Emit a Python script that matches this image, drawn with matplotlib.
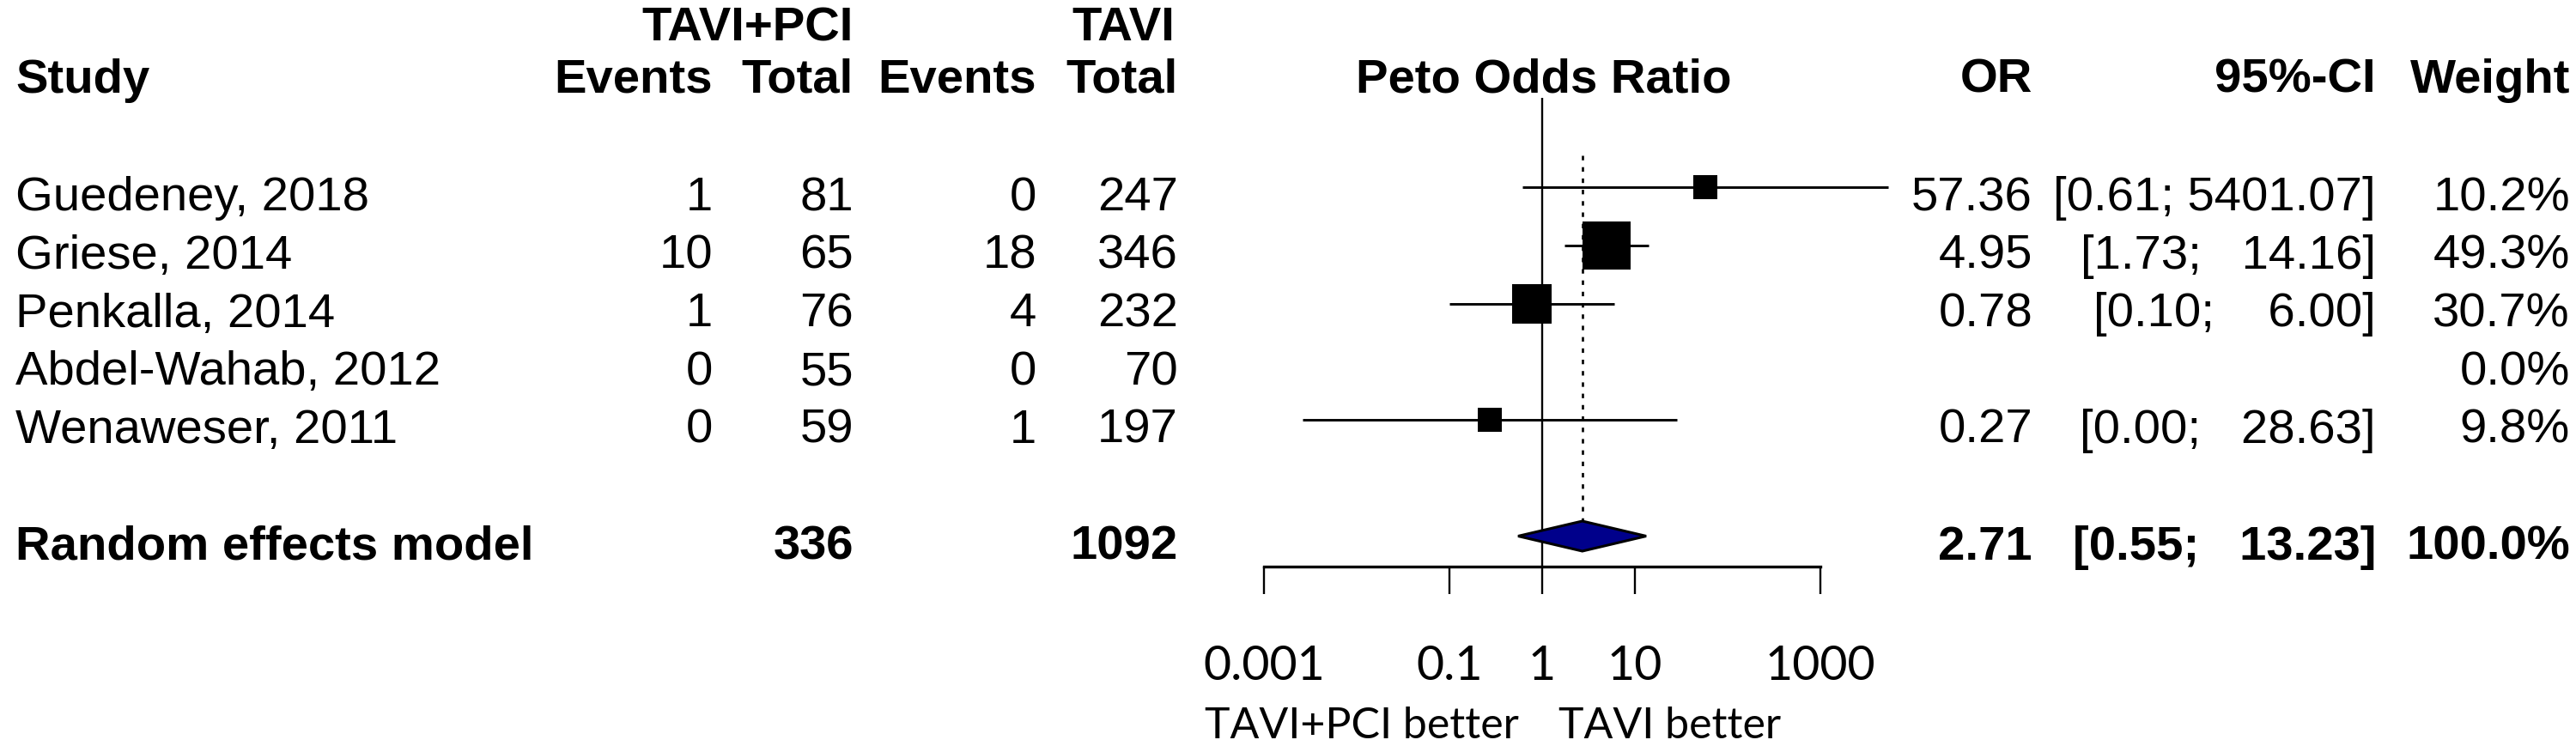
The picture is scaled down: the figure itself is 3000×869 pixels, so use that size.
import matplotlib
matplotlib.use('Agg')
import matplotlib.pyplot as plt
from matplotlib.patches import Polygon
from matplotlib.ticker import NullLocator
import numpy as np

plt.rcParams['font.family'] = ['Liberation Sans', 'DejaVu Sans']

# data
studies = ["Guedeney, 2018", "Griese, 2014", "Penkalla, 2014", "Abdel-Wahab, 2012", "Wenaweser, 2011"]
ev_pci = [1, 10, 1, 0, 0]
tot_pci = [81, 65, 76, 55, 59]
ev_tavi = [0, 18, 4, 0, 1]
tot_tavi = [247, 346, 232, 70, 197]
odds = [57.36, 4.95, 0.78, np.nan, 0.27]
ci_low = [0.61, 1.73, 0.10, np.nan, 0.0026]
ci_high = [5401.07, 14.16, 6.00, np.nan, 28.63]
weights = [10.2, 49.3, 30.7, 0.0, 9.8]

pooled_or = 2.71
pooled_low = 0.55
pooled_high = 13.23
pooled_tot_pci = 336
pooled_tot_tavi = 1092

ticks = [0.001, 0.1, 1, 10, 1000]
tick_labels = ["0.001", "0.1", "1", "10", "1000"]

# layout (pixels of a 3000x870 canvas, rows in row units)
W, H = 3000, 870
ROW0, ROWH = 219, 67.75
y_top = -ROW0 / ROWH
y_bot = (H - ROW0) / ROWH
base = 26 / ROWH          # text baseline below row centre
sum_row = 6
axis_y = (661 - ROW0) / ROWH
fs = 40.5

fig = plt.figure(figsize=(30, 8.7), dpi=100)

tx = fig.add_axes([0, 0, 1, 1])
tx.set_xlim(0, W)
tx.set_ylim(y_bot, y_top)
tx.axis('off')

col_x = {'study': 18, 'ev1': 830, 'tot1': 994, 'ev2': 1207, 'tot2': 1372,
         'or': 2367, 'ci': 2767, 'w': 2993}

# headers
h1 = (47 - ROW0) / ROWH
h2 = (108 - ROW0) / ROWH
tx.text(col_x['tot1'], h1, "TAVI+PCI", ha='right', va='baseline', fontsize=fs, fontweight='bold')
tx.text(col_x['tot2'] - 4, h1, "TAVI", ha='right', va='baseline', fontsize=fs, fontweight='bold')
tx.text(col_x['study'], h2, "Study", ha='left', va='baseline', fontsize=fs, fontweight='bold')
for key, lab in [('ev1', 'Events'), ('tot1', 'Total'), ('ev2', 'Events'), ('tot2', 'Total'),
                 ('or', 'OR'), ('ci', '95%-CI'), ('w', 'Weight')]:
    tx.text(col_x[key], h2, lab, ha='right', va='baseline', fontsize=fs, fontweight='bold')
tx.text(1798, h2, "Peto Odds Ratio", ha='center', va='baseline', fontsize=fs, fontweight='bold')

# study rows
for i, name in enumerate(studies):
    y = i + base
    tx.text(col_x['study'], y, name, ha='left', va='baseline', fontsize=fs)
    tx.text(col_x['ev1'], y, str(ev_pci[i]), ha='right', va='baseline', fontsize=fs)
    tx.text(col_x['tot1'], y, str(tot_pci[i]), ha='right', va='baseline', fontsize=fs)
    tx.text(col_x['ev2'], y, str(ev_tavi[i]), ha='right', va='baseline', fontsize=fs)
    tx.text(col_x['tot2'], y, str(tot_tavi[i]), ha='right', va='baseline', fontsize=fs)
    if weights[i] > 0:
        tx.text(col_x['or'], y, f"{odds[i]:.2f}", ha='right', va='baseline', fontsize=fs)
        tx.text(col_x['ci'], y, f"[{ci_low[i]:.2f}; {ci_high[i]:>7.2f}]", ha='right', va='baseline', fontsize=fs)
    tx.text(col_x['w'], y, f"{weights[i]:.1f}%", ha='right', va='baseline', fontsize=fs)

# pooled row
y = sum_row + base
tx.text(col_x['study'], y, "Random effects model", ha='left', va='baseline', fontsize=fs, fontweight='bold')
tx.text(col_x['tot1'], y, str(pooled_tot_pci), ha='right', va='baseline', fontsize=fs, fontweight='bold')
tx.text(col_x['tot2'], y, str(pooled_tot_tavi), ha='right', va='baseline', fontsize=fs, fontweight='bold')
tx.text(col_x['or'], y, f"{pooled_or:.2f}", ha='right', va='baseline', fontsize=fs, fontweight='bold')
tx.text(col_x['ci'], y, f"[{pooled_low:.2f}; {pooled_high:>7.2f}]", ha='right', va='baseline', fontsize=fs, fontweight='bold')
tx.text(col_x['w'], y, f"{sum(weights):.1f}%", ha='right', va='baseline', fontsize=fs, fontweight='bold')

# bottom labels
lab_y = (860 - ROW0) / ROWH
tx.text(1769, lab_y, "TAVI+PCI better", ha='right', va='baseline', fontsize=36, family='Lato')
tx.text(1815, lab_y, "TAVI better", ha='left', va='baseline', fontsize=36, family='Lato')

# forest panel
fa = fig.add_axes([1472 / W, 0, 648 / W, 1])
fa.set_xscale('log')
fa.set_xlim(1e-3, 1e3)
fa.set_ylim(y_bot, y_top)
fa.patch.set_visible(False)
for s in ['top', 'left', 'right']:
    fa.spines[s].set_visible(False)
fa.spines['bottom'].set_position(('data', axis_y))
fa.spines['bottom'].set_linewidth(2.4)
fa.set_yticks([])
fa.set_xticks(ticks, tick_labels)
fa.xaxis.set_minor_locator(NullLocator())
fa.tick_params(axis='x', length=23, width=1.7, direction='out', pad=42, labelsize=40)
for lab in fa.get_xticklabels():
    lab.set_fontfamily('Lato')

# reference lines
h = 17.5 / ROWH
fa.vlines(1, (115 - ROW0) / ROWH, axis_y, color='black', lw=1.7, clip_on=False)
fa.vlines(pooled_or, (182 - ROW0) / ROWH, sum_row - h, color='black', lw=1.9,
          linestyles=(0, (2, 3)), clip_on=False)

# studies
for i in range(len(studies)):
    if weights[i] <= 0:
        continue
    fa.hlines(i, ci_low[i], ci_high[i], color='black', lw=2.1, clip_on=False)
    side_pt = 9.7 * weights[i] ** 0.45 * 72 / 100
    fa.scatter([odds[i]], [i], s=side_pt ** 2, marker='s', color='black', lw=0, zorder=3, clip_on=False)

# pooled diamond
dia = Polygon([(pooled_low, sum_row), (pooled_or, sum_row - h), (pooled_high, sum_row),
               (pooled_or, sum_row + h)], closed=True, facecolor='#00008B', edgecolor='black',
              lw=2.2, zorder=4, clip_on=False)
fa.add_patch(dia)

fig.savefig('out.png', dpi=100)
